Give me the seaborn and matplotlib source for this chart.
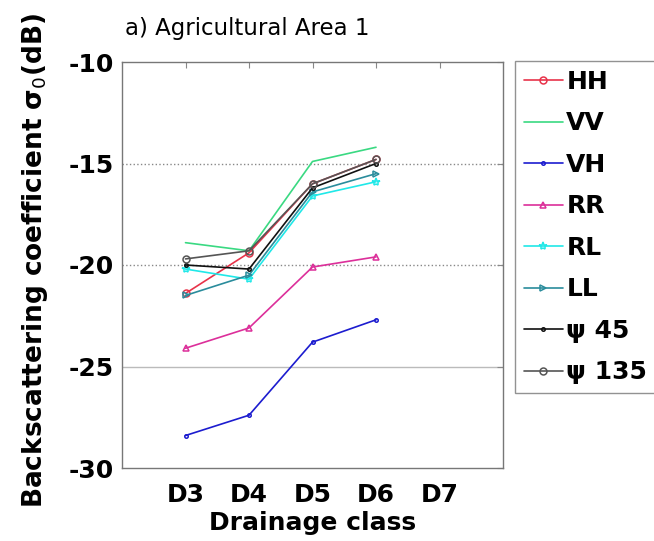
import numpy as np
import pandas as pd
import matplotlib
matplotlib.use("Agg")
import matplotlib.pyplot as plt
import seaborn as sns

# drainage class numbers and tick labels
classes = [3, 4, 5, 6]
tick_classes = [3, 4, 5, 6, 7]
tick_labels = ["D3", "D4", "D5", "D6", "D7"]

# backscattering coefficient (dB) per channel
hh = [-21.4, -19.4, -16.0, -14.8]
vv = [-18.9, -19.3, -14.9, -14.2]
vh = [-28.4, -27.4, -23.8, -22.7]
rr = [-24.1, -23.1, -20.1, -19.6]
rl = [-20.2, -20.7, -16.6, -15.9]
ll = [-21.5, -20.5, -16.4, -15.5]
psi45 = [-20.0, -20.2, -16.2, -15.0]
psi135 = [-19.7, -19.3, -16.0, -14.8]

series = {
    "HH": hh, "VV": vv, "VH": vh, "RR": rr,
    "RL": rl, "LL": ll, "ψ 45": psi45, "ψ 135": psi135,
}
styles = {
    "HH": ("#e8334a", "o"),
    "VV": ("#3ad982", None),
    "VH": ("#1c1ccf", "."),
    "RR": ("#dc2f9a", "^"),
    "RL": ("#20e8e8", "*"),
    "LL": ("#2a8c9c", ">"),
    "ψ 45": ("#111111", "."),
    "ψ 135": ("#555555", "o"),
}

sns.set_style("white")
plt.rcParams["font.family"] = ["DejaVu Sans"]
plt.rcParams["axes.unicode_minus"] = False
plt.rcParams["text.color"] = "black"
plt.rcParams["axes.labelcolor"] = "black"
plt.rcParams["xtick.labelcolor"] = "black"
plt.rcParams["ytick.labelcolor"] = "black"

fig = plt.figure(figsize=(6.54, 5.41), dpi=100)
ax = fig.add_axes([122 / 654, 1 - 468 / 541, 381 / 654, 406 / 541])

for name, vals in series.items():
    color, marker = styles[name]
    df = pd.DataFrame({"cls": classes, "val": vals})
    sns.lineplot(data=df, x="cls", y="val", ax=ax, color=color, marker=marker,
                 markersize=5 if marker != "*" else 6, markerfacecolor="none",
                 markeredgecolor=color, markeredgewidth=1.1, linewidth=1.2,
                 label=name)

# grid lines
for yv in (-15, -20):
    ax.axhline(yv, color="#888888", linestyle=":", linewidth=1.0, zorder=0)
ax.axhline(-25, color="#bbbbbb", linestyle="-", linewidth=1.0, zorder=0)

ax.set_xlim(2, 8)
ax.set_ylim(-30, -10)
ax.set_xticks(tick_classes)
ax.set_xticklabels(tick_labels)
ax.set_yticks([-30, -25, -20, -15, -10])
ax.tick_params(direction="in", top=True, right=True, labelsize=18, length=4,
               color="#888888")
ax.tick_params(axis="x", pad=11)
ax.tick_params(axis="y", pad=6)
for lab in ax.get_xticklabels() + ax.get_yticklabels():
    lab.set_fontweight("bold")
for sp in ax.spines.values():
    sp.set_color("#777777")
    sp.set_linewidth(1.0)

ax.set_xlabel("Drainage class", fontsize=18, fontweight="bold", labelpad=3)
ax.set_ylabel("Backscattering coefficient σ$_0$(dB)", fontsize=19,
              fontweight="bold")
ax.yaxis.set_label_coords(-0.19, 0.51)
ax.text(0.33, 1.055, "a) Agricultural Area 1", transform=ax.transAxes,
        ha="center", va="bottom", fontsize=16.5)

leg = ax.legend(loc="upper left", bbox_to_anchor=(1.0315, 1.002), fontsize=18,
                frameon=True, fancybox=False, handlelength=1.55,
                handletextpad=0.15, labelspacing=0.7, borderaxespad=0,
                borderpad=0.35)
leg.get_frame().set_edgecolor("#777777")
for t in leg.get_texts():
    t.set_fontweight("bold")

fig.savefig("out.png", dpi=100)
